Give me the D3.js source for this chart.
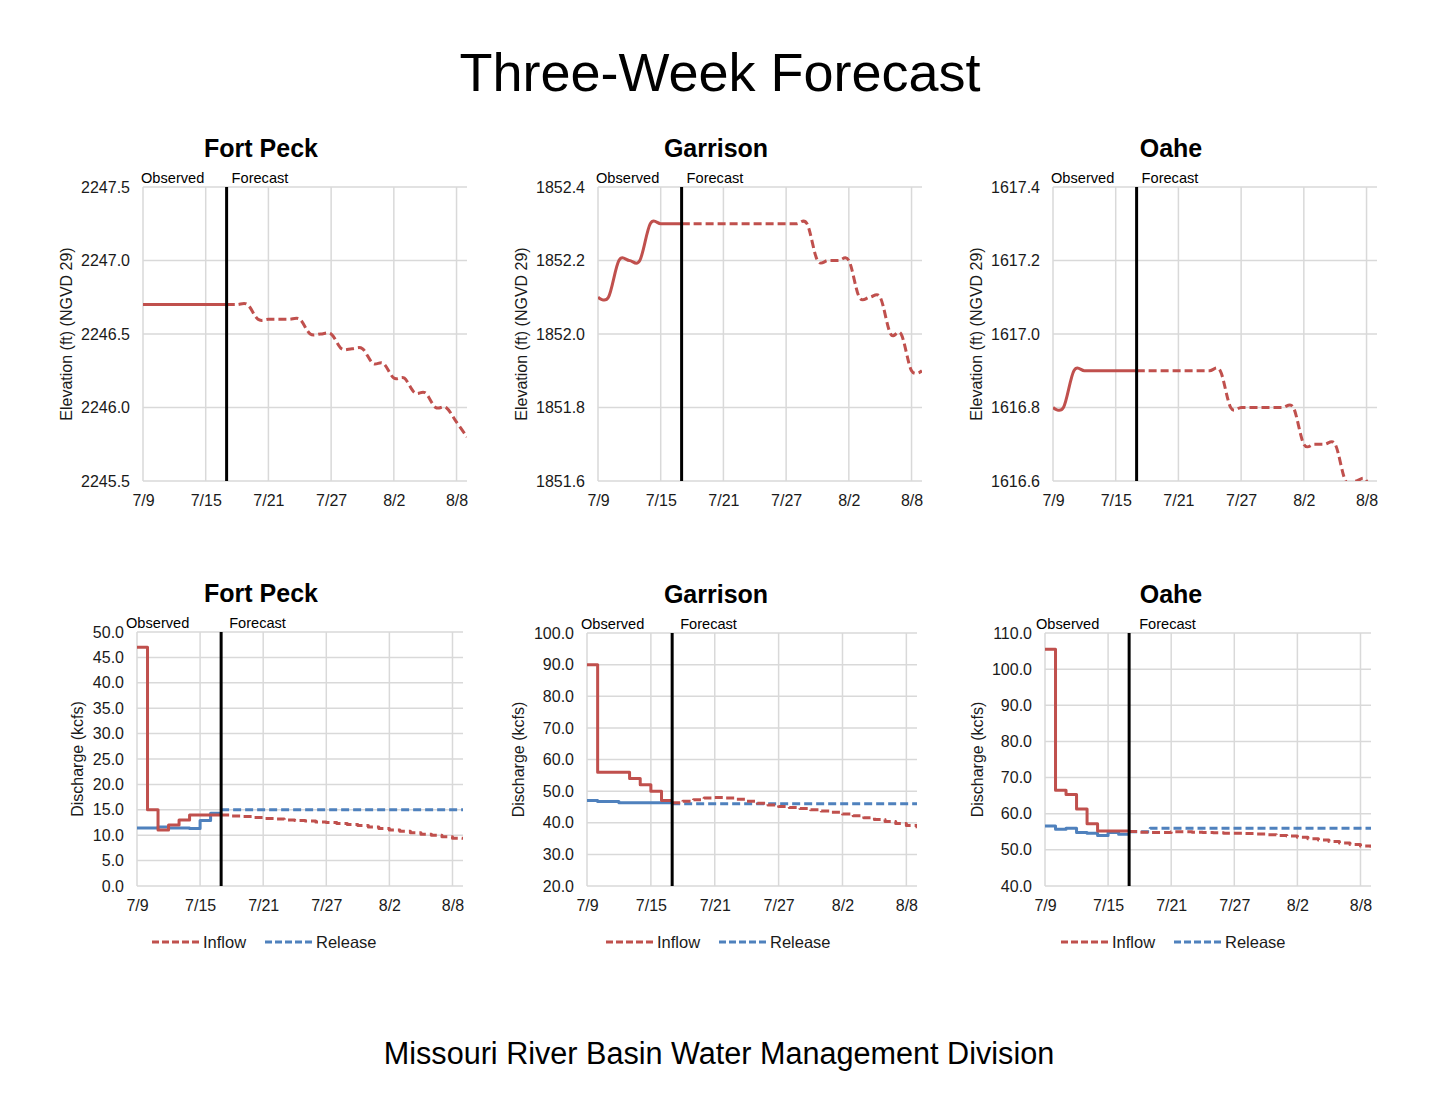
<!DOCTYPE html>
<html>
<head>
<meta charset="utf-8">
<script src="https://cdn.jsdelivr.net/npm/d3@7"></script>
<style>
  html, body { margin: 0; padding: 0; background: #fff; }
  svg { display: block; font-family: "Liberation Sans", Arial, sans-serif; }
</style>
</head>
<body>
<svg id="chart" width="1440" height="1113"></svg>
<script>
// ---------------- DATA ----------------
const xTickDays = [0, 6, 12, 18, 24, 30];
const xTickLabels = ["7/9", "7/15", "7/21", "7/27", "8/2", "8/8"];
const lastDay = 31;
const forecastDay = 8;

// Elevation (ft): observed days 0..8, forecast days 8..31
const fortPeckElevObs = [2246.7, 2246.7, 2246.7, 2246.7, 2246.7, 2246.7, 2246.7, 2246.7, 2246.7];
const fortPeckElevFcst = [2246.7, 2246.7, 2246.7, 2246.6, 2246.6, 2246.6, 2246.6, 2246.6, 2246.5, 2246.5, 2246.5, 2246.4,
  2246.4, 2246.4, 2246.3, 2246.3, 2246.2, 2246.2, 2246.1, 2246.1, 2246.0, 2246.0, 2245.9, 2245.8];
const garrisonElevObs = [1852.1, 1852.1, 1852.2, 1852.2, 1852.2, 1852.3, 1852.3, 1852.3, 1852.3];
const garrisonElevFcst = [1852.3, 1852.3, 1852.3, 1852.3, 1852.3, 1852.3, 1852.3, 1852.3, 1852.3, 1852.3, 1852.3, 1852.3,
  1852.3, 1852.2, 1852.2, 1852.2, 1852.2, 1852.1, 1852.1, 1852.1, 1852.0, 1852.0, 1851.9, 1851.9];
const oaheElevObs = [1616.8, 1616.8, 1616.9, 1616.9, 1616.9, 1616.9, 1616.9, 1616.9, 1616.9];
const oaheElevFcst = [1616.9, 1616.9, 1616.9, 1616.9, 1616.9, 1616.9, 1616.9, 1616.9, 1616.9, 1616.8, 1616.8, 1616.8,
  1616.8, 1616.8, 1616.8, 1616.8, 1616.7, 1616.7, 1616.7, 1616.7, 1616.6, 1616.6, 1616.6, 1616.5];

// Discharge (kcfs): observed days 0..7, forecast days 8..31
const fortPeckInflowObs = [47.0, 15.0, 11.0, 12.0, 13.0, 14.0, 14.0, 14.0];
const fortPeckReleaseObs = [11.4, 11.4, 11.6, 11.4, 11.4, 11.3, 12.9, 14.3];
const fortPeckInflowFcst = [14.0, 13.8, 13.7, 13.5, 13.3, 13.2, 13.0, 12.9, 12.8, 12.6, 12.5, 12.3,
  12.1, 11.9, 11.6, 11.3, 11.0, 10.8, 10.5, 10.2, 10.0, 9.7, 9.4, 9.1];
const fortPeckReleaseFcst = [15.0, 15.0, 15.0, 15.0, 15.0, 15.0, 15.0, 15.0, 15.0, 15.0, 15.0, 15.0,
  15.0, 15.0, 15.0, 15.0, 15.0, 15.0, 15.0, 15.0, 15.0, 15.0, 15.0, 15.0];

const garrisonInflowObs = [90.0, 56.0, 56.0, 56.0, 54.0, 52.0, 50.0, 47.0];
const garrisonReleaseObs = [47.0, 46.7, 46.7, 46.3, 46.3, 46.3, 46.3, 46.3];
const garrisonInflowFcst = [46.3, 46.8, 47.3, 47.8, 48.0, 47.8, 47.4, 46.8, 46.2, 45.6, 45.1, 44.8,
  44.5, 44.1, 43.7, 43.3, 42.8, 42.2, 41.6, 41.0, 40.4, 39.8, 39.1, 38.3];
const garrisonReleaseFcst = [46.0, 46.0, 46.0, 46.0, 46.0, 46.0, 46.0, 46.0, 46.0, 46.0, 46.0, 46.0,
  46.0, 46.0, 46.0, 46.0, 46.0, 46.0, 46.0, 46.0, 46.0, 46.0, 46.0, 46.0];

const oaheInflowObs = [105.5, 66.5, 65.3, 61.3, 57.2, 55.2, 55.2, 55.2];
const oaheReleaseObs = [56.6, 55.7, 56.0, 54.8, 54.6, 54.0, 54.8, 54.3];
const oaheInflowFcst = [55.1, 54.9, 54.8, 54.8, 55.0, 55.0, 54.9, 54.8, 54.7, 54.6, 54.6, 54.5,
  54.4, 54.2, 54.0, 53.8, 53.5, 53.1, 52.7, 52.3, 51.9, 51.5, 51.1, 50.6];
const oaheReleaseFcst = [55.0, 55.0, 56.0, 56.0, 56.0, 56.0, 56.0, 56.0, 56.0, 56.0, 56.0, 56.0,
  56.0, 56.0, 56.0, 56.0, 56.0, 56.0, 56.0, 56.0, 56.0, 56.0, 56.0, 56.0];

const elevTicksFortPeck = [2245.5, 2246.0, 2246.5, 2247.0, 2247.5];
const elevTicksGarrison = [1851.6, 1851.8, 1852.0, 1852.2, 1852.4];
const elevTicksOahe = [1616.6, 1616.8, 1617.0, 1617.2, 1617.4];
const qTicksFortPeck = [0, 5, 10, 15, 20, 25, 30, 35, 40, 45, 50];
const qTicksGarrison = [20, 30, 40, 50, 60, 70, 80, 90, 100];
const qTicksOahe = [40, 50, 60, 70, 80, 90, 100, 110];

// ---------------- DRAWING ----------------
const RED = "#c0504d", BLUE = "#4f81bd", GRID = "#d9d9d9";
const svg = d3.select("#chart");
svg.append("rect").attr("width", 1440).attr("height", 1113).attr("fill", "#fff");

svg.append("text").attr("x", 720).attr("y", 91).attr("text-anchor", "middle")
  .attr("font-size", 54).attr("fill", "#000").text("Three-Week Forecast");
svg.append("text").attr("x", 719).attr("y", 1064).attr("text-anchor", "middle")
  .attr("font-size", 30.6).attr("fill", "#000").text("Missouri River Basin Water Management Division");

let clipId = 0;
function panel(cfg) {
  const x = d3.scaleLinear().domain([0, lastDay]).range([cfg.left, cfg.right]);
  const y = d3.scaleLinear().domain(cfg.yDomain).range([cfg.bottom, cfg.top]);
  const g = svg.append("g");

  g.append("text").attr("x", cfg.titleX).attr("y", cfg.top - 30).attr("text-anchor", "middle")
    .attr("font-size", 25).attr("font-weight", "bold").attr("fill", "#000").text(cfg.title);

  g.append("g").selectAll("line").data(cfg.yTicks).join("line")
    .attr("x1", cfg.left).attr("x2", cfg.right)
    .attr("y1", d => y(d)).attr("y2", d => y(d))
    .attr("stroke", GRID).attr("stroke-width", 1.5);
  g.append("g").selectAll("line").data(xTickDays).join("line")
    .attr("x1", d => x(d)).attr("x2", d => x(d))
    .attr("y1", cfg.top).attr("y2", cfg.bottom)
    .attr("stroke", GRID).attr("stroke-width", 1.5);

  const yAxis = d3.axisLeft(y).tickValues(cfg.yTicks).tickFormat(d3.format(".1f")).tickSize(0).tickPadding(13);
  const ya = g.append("g").attr("transform", `translate(${cfg.left},0)`).call(yAxis);
  ya.select(".domain").remove();
  ya.selectAll("text").attr("font-size", 16).attr("fill", "#1a1a1a")
    .attr("font-family", "'Liberation Sans', Arial, sans-serif");

  const xAxis = d3.axisBottom(x).tickValues(xTickDays).tickFormat((d, i) => xTickLabels[i]).tickSize(0).tickPadding(14);
  const xa = g.append("g").attr("transform", `translate(0,${cfg.bottom})`).call(xAxis);
  xa.select(".domain").remove();
  xa.selectAll("text").attr("font-size", 16).attr("fill", "#1a1a1a")
    .attr("font-family", "'Liberation Sans', Arial, sans-serif");

  g.append("text").attr("transform", `translate(${cfg.ylabelX},${(cfg.top + cfg.bottom) / 2}) rotate(-90)`)
    .attr("text-anchor", "middle").attr("dominant-baseline", "central")
    .attr("font-size", 16).attr("fill", "#1a1a1a").text(cfg.ylabel);

  const id = "clip" + (clipId++);
  svg.append("clipPath").attr("id", id).append("rect")
    .attr("x", cfg.left).attr("y", cfg.top - 2).attr("width", cfg.right - cfg.left).attr("height", cfg.bottom - cfg.top + 2);
  const plot = g.append("g").attr("clip-path", `url(#${id})`);

  cfg.series.forEach(s => {
    const line = d3.line().x(d => x(d[0])).y(d => y(d[1])).curve(s.curve);
    plot.append("path").datum(s.pts).attr("d", line)
      .attr("fill", "none").attr("stroke", s.color).attr("stroke-width", 3)
      .attr("stroke-dasharray", s.dash || null)
      .attr("stroke-linejoin", "round");
  });

  g.append("line").attr("x1", x(forecastDay)).attr("x2", x(forecastDay))
    .attr("y1", cfg.top).attr("y2", cfg.bottom).attr("stroke", "#000").attr("stroke-width", 3);
  g.append("text").attr("x", cfg.obsX).attr("y", cfg.top - 4).attr("font-size", 14.6).attr("fill", "#000").text("Observed");
  g.append("text").attr("x", x(forecastDay) + cfg.fcstDx).attr("y", cfg.top - 4).attr("font-size", 14.6).attr("fill", "#000").text("Forecast");

  if (cfg.legendX !== undefined) {
    const ly = 942;
    const items = [{ c: RED, t: "Inflow", x0: cfg.legendX }, { c: BLUE, t: "Release", x0: cfg.legendX + 113 }];
    items.forEach(it => {
      g.append("line").attr("x1", it.x0).attr("x2", it.x0 + 48).attr("y1", ly).attr("y2", ly)
        .attr("stroke", it.c).attr("stroke-width", 3).attr("stroke-dasharray", "7,3");
      g.append("text").attr("x", it.x0 + 51).attr("y", ly).attr("dominant-baseline", "central")
        .attr("font-size", 16.5).attr("fill", "#1a1a1a").text(it.t);
    });
  }
}

const smooth = d3.curveCardinal.tension(0);
const step = d3.curveStepAfter;
function obsElev(arr) { return arr.map((v, i) => [i, v]); }
function fcstElev(arr) { return arr.map((v, i) => [forecastDay + i, v]); }
function obsStep(arr) { const p = arr.map((v, i) => [i, v]); p.push([forecastDay, arr[arr.length - 1]]); return p; }
function fcstStep(arr) { return arr.map((v, i) => [forecastDay + i, v]); }

const elevPanels = [
  { left: 143, titleX: 261, title: "Fort Peck", dom: [2245.5, 2247.5], ticks: elevTicksFortPeck, obs: fortPeckElevObs, fc: fortPeckElevFcst },
  { left: 598, titleX: 716, title: "Garrison", dom: [1851.6, 1852.4], ticks: elevTicksGarrison, obs: garrisonElevObs, fc: garrisonElevFcst },
  { left: 1053, titleX: 1171, title: "Oahe", dom: [1616.6, 1617.4], ticks: elevTicksOahe, obs: oaheElevObs, fc: oaheElevFcst }
];
elevPanels.forEach(p => {
  panel({
    left: p.left, right: p.left + 324, top: 187, bottom: 481,
    title: p.title, titleX: p.titleX, yDomain: p.dom, yTicks: p.ticks,
    ylabel: "Elevation (ft) (NGVD 29)", ylabelX: p.left - 77,
    obsX: p.left - 2, fcstDx: 5,
    series: [
      { pts: obsElev(p.obs), color: RED, curve: smooth },
      { pts: fcstElev(p.fc), color: RED, curve: smooth, dash: "8,4" }
    ]
  });
});

const qPanels = [
  { left: 137, right: 463, top: 632, titleX: 261, title: "Fort Peck", dom: [0, 50], ticks: qTicksFortPeck, ylx: 77, obsX: 126, fdx: 8, legendX: 152,
    inO: fortPeckInflowObs, reO: fortPeckReleaseObs, inF: fortPeckInflowFcst, reF: fortPeckReleaseFcst },
  { left: 587, right: 917, top: 633, titleX: 716, title: "Garrison", dom: [20, 100], ticks: qTicksGarrison, ylx: 518, obsX: 581, fdx: 8, legendX: 606,
    inO: garrisonInflowObs, reO: garrisonReleaseObs, inF: garrisonInflowFcst, reF: garrisonReleaseFcst },
  { left: 1045, right: 1371, top: 633, titleX: 1171, title: "Oahe", dom: [40, 110], ticks: qTicksOahe, ylx: 977, obsX: 1036, fdx: 10, legendX: 1061,
    inO: oaheInflowObs, reO: oaheReleaseObs, inF: oaheInflowFcst, reF: oaheReleaseFcst }
];
qPanels.forEach(p => {
  panel({
    left: p.left, right: p.right, top: p.top, bottom: 886,
    title: p.title, titleX: p.titleX, yDomain: p.dom, yTicks: p.ticks,
    ylabel: "Discharge (kcfs)", ylabelX: p.ylx,
    obsX: p.obsX, fcstDx: p.fdx, legendX: p.legendX,
    series: [
      { pts: fcstStep(p.reF), color: BLUE, curve: step, dash: "8,4" },
      { pts: fcstStep(p.inF), color: RED, curve: step, dash: "8,4" },
      { pts: obsStep(p.reO), color: BLUE, curve: step },
      { pts: obsStep(p.inO), color: RED, curve: step }
    ]
  });
});
</script>
</body>
</html>
